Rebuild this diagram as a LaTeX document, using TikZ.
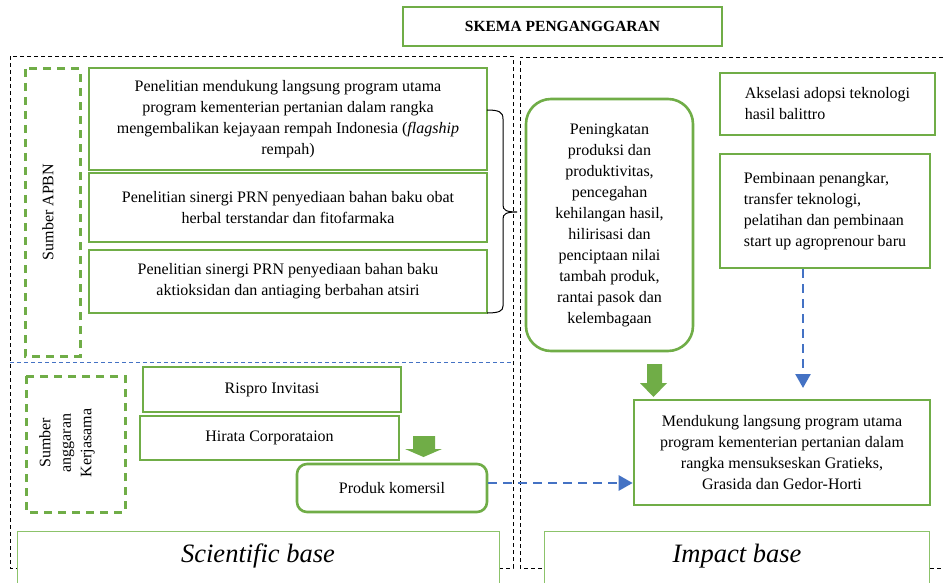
\documentclass[tikz,border=0pt]{standalone}
\usepackage{fontspec}
\setmainfont{Liberation Serif}
\usetikzlibrary{arrows.meta}
\definecolor{gr}{HTML}{70AD47}
\definecolor{grl}{HTML}{8CC36A}
\definecolor{bl}{HTML}{4472C4}
\begin{document}
\begin{tikzpicture}[x=1pt,y=-1pt,
  every node/.style={font=\fontsize{16}{21}\selectfont, inner sep=0pt},
  gbox/.style={draw=gr, line width=2.6pt, align=center},
  gdash/.style={draw=gr, line width=3pt, dash pattern=on 8pt off 6pt},
  bdash/.style={draw=black, line width=0.9pt, dash pattern=on 4pt off 3pt},
  bthin/.style={draw=bl, line width=0.9pt, dash pattern=on 4pt off 3pt},
  barrow/.style={draw=bl, line width=2.5pt, dash pattern=on 9pt off 6pt, -{Triangle[length=14pt,width=15pt]}},
  basebox/.style={draw=grl, line width=1pt, fill=white, align=center},
  blockarrow/.style={fill=gr}]
\useasboundingbox (0,0) rectangle (943,583);
\fill[white] (0,0) rectangle (943,583);

% outer dashed frames
\draw[bdash] (10,56) rectangle (513,568);
\draw[bdash] (943,57) -- (520,57) -- (520,568) -- (943,568);
\draw[bthin] (10,362) -- (513,362);

% title
\node[gbox, minimum width=319, minimum height=39, font=\fontsize{15.5}{19}\selectfont\bfseries] (title) at (562.5,26.5) {SKEMA PENGANGGARAN};

% funding source boxes
\draw[gdash] (25,69) rectangle (80,356);
\node[rotate=90] (apbn) at (48,212) {Sumber APBN};
\draw[gdash] (26,376) rectangle (125,512);
\node[rotate=90, align=center, font=\fontsize{16}{20.5}\selectfont] (kerja) at (67,443) {Sumber\\anggaran\\Kerjasama};

% research boxes
\node[gbox, minimum width=398, minimum height=102] (b1) at (288,119) {Penelitian mendukung langsung program utama\\program kementerian pertanian dalam rangka\\mengembalikan kejayaan rempah Indonesia (\textit{flagship}\\rempah)};
\node[gbox, minimum width=398, minimum height=69] (b2) at (288,207.5) {Penelitian sinergi PRN penyediaan bahan baku obat\\herbal terstandar dan fitofarmaka};
\node[gbox, minimum width=398, minimum height=63] (b3) at (288,281.5) {Penelitian sinergi PRN penyediaan bahan baku\\aktioksidan dan antiaging berbahan atsiri};

% brace
\draw[line width=1pt] (487,110) .. controls (499,110) and (503,112) .. (503,119) -- (503,205)
  .. controls (503,210) and (506,212) .. (517,212)
  .. controls (506,212) and (503,214) .. (503,219) -- (503,306)
  .. controls (503,311) and (499,313) .. (487,313);

% cooperation boxes
\node[gbox, minimum width=258, minimum height=45] (rispro) at (272,389.5) {Rispro Invitasi};
\node[gbox, minimum width=259, minimum height=44] (hirata) at (269.5,438) {Hirata Corporataion};
\node[gbox, rounded corners=10pt, minimum width=190, minimum height=48] (produk) at (392,488) {Produk komersil};
\fill[blockarrow] (413,436) -- (435,436) -- (435,449) -- (442,449) -- (423.5,457) -- (405,449) -- (413,449) -- cycle;

% right side
\node[gbox, rounded corners=25pt, minimum width=167, minimum height=252] (pen) at (609.5,225) {Peningkatan\\produksi dan\\produktivitas,\\pencegahan\\kehilangan hasil,\\hilirisasi dan\\penciptaan nilai\\tambah produk,\\rantai pasok dan\\kelembagaan};
\node[gbox, align=left, minimum width=215, minimum height=62] (aks) at (827.5,104) {Akselasi adopsi teknologi\\hasil balittro};
\node[gbox, align=left, minimum width=210, minimum height=114] (pemb) at (825,211) {Pembinaan penangkar,\\transfer teknologi,\\pelatihan dan pembinaan\\start up agroprenour baru};
\node[gbox, minimum width=296, minimum height=105] (mend) at (782,452.5) {Mendukung langsung program utama\\program kementerian pertanian dalam\\rangka mensukseskan Gratieks,\\Grasida dan Gedor-Horti};
\fill[blockarrow] (647,364) -- (662,364) -- (662,383) -- (667,383) -- (653.5,397) -- (640,383) -- (647,383) -- cycle;

\coordinate (tipA) at (803,388);
\draw[barrow] (pemb.south -| tipA) -- (tipA);
\draw[barrow] ([yshift=5pt]produk.east) -- ([yshift=5pt]produk.east -| mend.west);

% base boxes
\draw[basebox] (17,600) -- (17,531) -- (499,531) -- (499,600);
\node[font=\fontsize{26.5}{30}\selectfont\itshape] (sci) at (258,556) {Scientific base};
\draw[basebox] (544,600) -- (544,531) -- (929,531) -- (929,600);
\node[font=\fontsize{26.5}{30}\selectfont\itshape] (imp) at (737,556) {Impact base};
\end{tikzpicture}
\end{document}
